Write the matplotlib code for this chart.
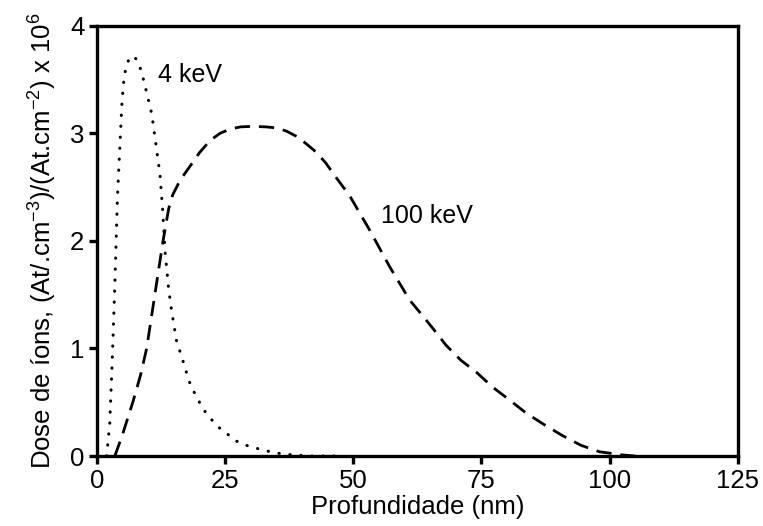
import matplotlib

matplotlib.use("Agg")
from matplotlib import pyplot as plt

# 4 keV implantation profile (depth in nm, dose x 1e6)
depth_4kev = [1.9, 2.5, 3.0, 3.5, 4.0, 4.5, 4.9, 5.3, 5.8, 6.4, 7.0, 7.7, 8.5,
              9.2, 9.7, 10.7, 11.3, 12.3, 12.8, 13.3, 14.0, 14.6, 15.6, 16.3,
              17.0, 17.7, 18.4, 19.5, 20.5, 21.8, 23.4, 25.3, 27.5, 29.7, 32.1,
              34.7, 37.0, 39.5, 42.0, 48.0]
dose_4kev = [0.0, 0.3, 0.9, 1.6, 2.4, 2.9, 3.3, 3.52, 3.64, 3.70, 3.72, 3.69,
             3.60, 3.48, 3.38, 3.18, 2.97, 2.62, 2.3, 1.9, 1.55, 1.34, 1.05,
             0.96, 0.85, 0.74, 0.64, 0.55, 0.45, 0.37, 0.28, 0.21, 0.13, 0.09,
             0.06, 0.03, 0.016, 0.007, 0.0, 0.0]

# 100 keV implantation profile
depth_100kev = [3.5, 5.0, 7.0, 8.5, 9.7, 11.3, 12.9, 14.0, 14.8, 16.3, 18.1,
                20.0, 22.0, 24.0, 26.0, 28.0, 30.4, 33.0, 35.1, 37.0, 39.0,
                40.9, 42.9, 44.7, 46.8, 49.3, 53.2, 57.1, 61.0, 63.6, 65.8,
                68.1, 71.0, 74.0, 77.2, 80.5, 83.7, 87.3, 90.8, 94.4, 98.0,
                102.5, 105.0]
dose_100kev = [0.0, 0.2, 0.5, 0.75, 1.0, 1.5, 2.0, 2.3, 2.43, 2.57, 2.69,
               2.82, 2.93, 3.0, 3.04, 3.06, 3.065, 3.06, 3.05, 3.02, 2.97,
               2.90, 2.82, 2.72, 2.58, 2.42, 2.10, 1.76, 1.45, 1.30, 1.17,
               1.03, 0.89, 0.78, 0.64, 0.52, 0.40, 0.29, 0.19, 0.10, 0.04,
               0.01, 0.0]

x_ticks = [0, 25, 50, 75, 100, 125]
y_ticks = [0, 1, 2, 3, 4]

plt.rcParams["font.family"] = ["Liberation Sans", "DejaVu Sans"]
plt.rcParams["mathtext.default"] = "regular"
plt.rcParams["font.size"] = 18.5

fig = plt.figure(figsize=(7.63, 5.26), dpi=100)
ax = fig.add_axes([0.127, 0.133, 0.840, 0.818])

ax.plot(depth_4kev, dose_4kev, color="black", linewidth=2.2,
        linestyle=(0, (0.1, 3.5)), dash_capstyle="round")
ax.plot(depth_100kev, dose_100kev, color="black", linewidth=2.0,
        linestyle=(0, (5.5, 3.2)))

ax.text(11.9, 3.54, "4 keV", ha="left", va="center", fontsize=18)
ax.text(55.5, 2.23, "100 keV", ha="left", va="center", fontsize=18)

ax.set_xlim(0, 125)
ax.set_ylim(0, 4)
ax.set_xticks(x_ticks)
ax.set_yticks(y_ticks)
ax.set_xlabel("Profundidade (nm)", labelpad=2)
ax.set_ylabel("Dose de íons, (At/.cm$^{-3}$)/(At.cm$^{-2}$) x 10$^{6}$",
              labelpad=8)

for side in ax.spines.values():
    side.set_linewidth(2.4)
ax.tick_params(direction="out", length=6, width=2.4, pad=3)

fig.savefig("out.png", dpi=100)
